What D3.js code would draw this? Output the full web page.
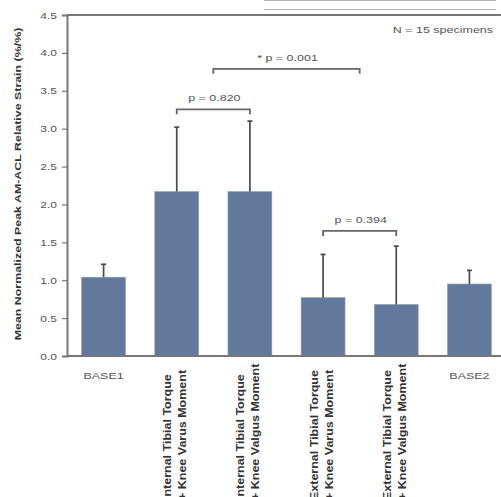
<!DOCTYPE html>
<html>
<head>
<meta charset="utf-8">
<script src="https://cdn.jsdelivr.net/npm/d3@7"></script>
<style>
  html, body { margin: 0; padding: 0; background: #fff; }
  svg { display: block; font-family: "Liberation Sans", Arial, sans-serif; }
</style>
</head>
<body>
<div id="chart"></div>
<script>
const categories = ['BASE1', 'IT_VAR', 'IT_VAL', 'ET_VAR', 'ET_VAL', 'BASE2'];
const labelLines = [
  ['BASE1'],
  ['Internal Tibial Torque', '+ Knee Varus Moment'],
  ['Internal Tibial Torque', '+ Knee Valgus Moment'],
  ['External Tibial Torque', '+ Knee Varus Moment'],
  ['External Tibial Torque', '+ Knee Valgus Moment'],
  ['BASE2']
];
const means = [1.04, 2.17, 2.17, 0.77, 0.68, 0.95];
const sds = [0.17, 0.85, 0.93, 0.57, 0.77, 0.18];
const yTicks = [0, 0.5, 1, 1.5, 2, 2.5, 3, 3.5, 4, 4.5];

// brackets: from category, to category, level, label
const bracketFrom = [1, 1.5, 3];
const bracketTo = [2, 3.5, 4];
const bracketLevel = [3.255, 3.79, 1.65];
const bracketLabels = ['p = 0.820', '* p = 0.001', 'p = 0.394'];

const W = 501, H = 497;
const MARGIN = {top: 15, left: 67, bottom: 141};
const PLOT_RIGHT = 506;
const BAR_COLOR = '#62799c';
const AXIS_COLOR = '#777';
const SQUASH = 0.78;

const svg = d3.select('#chart').append('svg')
  .attr('width', W)
  .attr('height', H);

const x = d3.scaleBand()
  .domain(categories)
  .range([MARGIN.left, PLOT_RIGHT])
  .paddingInner(0.4)
  .paddingOuter(0.2);

const y = d3.scaleLinear()
  .domain([0, 4.5])
  .range([H - MARGIN.bottom, MARGIN.top]);

// centre of a (possibly fractional) category index
const cx = i => {
  const lo = Math.floor(i), f = i - lo;
  return x(categories[lo]) + x.bandwidth() / 2 + f * x.step();
};

// flat (vertically squashed) text, like the reference
function flatText(tx, ty, str, anchor, size, fill) {
  return svg.append('text')
    .attr('transform', 'translate(' + tx + ',' + ty + ') scale(1,' + SQUASH + ')')
    .attr('text-anchor', anchor)
    .attr('fill', fill)
    .style('font-size', size + 'px')
    .text(str);
}

// stray border lines at top right
svg.append('g')
  .selectAll('line')
  .data([0.5, 9.5])
  .join('line')
  .attr('x1', 264).attr('x2', 496)
  .attr('y1', d => d).attr('y2', d => d)
  .attr('stroke', '#b5b5b5')
  .attr('stroke-width', 1);

// bars
svg.append('g')
  .selectAll('rect')
  .data(means)
  .join('rect')
  .attr('x', (d, i) => x(categories[i]))
  .attr('y', d => y(d))
  .attr('width', x.bandwidth())
  .attr('height', d => y(0) - y(d))
  .attr('fill', BAR_COLOR)
  .attr('stroke', '#8aa0bd')
  .attr('stroke-width', 0.6);

// error bars
const err = svg.append('g')
  .attr('stroke', '#4a4a4a')
  .attr('stroke-width', 1.7);

err.selectAll('line.v')
  .data(means)
  .join('line')
  .attr('class', 'v')
  .attr('x1', (d, i) => cx(i)).attr('x2', (d, i) => cx(i))
  .attr('y1', d => y(d))
  .attr('y2', (d, i) => y(d + sds[i]));

err.selectAll('line.c')
  .data(means)
  .join('line')
  .attr('class', 'c')
  .attr('x1', (d, i) => cx(i) - 2.5).attr('x2', (d, i) => cx(i) + 2.5)
  .attr('y1', (d, i) => y(d + sds[i]))
  .attr('y2', (d, i) => y(d + sds[i]));

// frame top line
svg.append('line')
  .attr('x1', MARGIN.left).attr('x2', W)
  .attr('y1', y(4.5)).attr('y2', y(4.5))
  .attr('stroke', AXIS_COLOR)
  .attr('stroke-width', 2);

// x axis line
svg.append('line')
  .attr('x1', MARGIN.left).attr('x2', W)
  .attr('y1', y(0)).attr('y2', y(0))
  .attr('stroke', AXIS_COLOR)
  .attr('stroke-width', 2);

// y axis
const yAxis = d3.axisLeft(y)
  .tickValues(yTicks)
  .tickFormat(d3.format('.1f'))
  .tickSize(5)
  .tickPadding(5);

const yg = svg.append('g')
  .attr('transform', 'translate(' + MARGIN.left + ',0)')
  .call(yAxis);

yg.select('.domain').attr('stroke', AXIS_COLOR).attr('stroke-width', 2);
yg.selectAll('.tick line').attr('stroke', AXIS_COLOR).attr('stroke-width', 1.2);
yg.selectAll('.tick text')
  .attr('fill', '#555')
  .attr('transform', 'scale(1,' + SQUASH + ')')
  .style('font-size', '12px')
  .style('font-family', '"Liberation Sans", Arial, sans-serif');

// y title
svg.append('text')
  .attr('transform', 'translate(21,' + 184 + ') rotate(-90) scale(1,0.8)')
  .attr('text-anchor', 'middle')
  .attr('fill', '#333')
  .style('font-size', '12.4px')
  .style('font-weight', 'bold')
  .text('Mean Normalized Peak AM-ACL Relative Strain (%/%)');

// x labels
labelLines.forEach((lines, i) => {
  const c = cx(i);
  if (lines.length === 1) {
    flatText(c, 379, lines[0], 'middle', 12.5, '#555');
  } else {
    lines.forEach((t, k) => {
      const bx = c - 5.5 + k * 15;
      svg.append('text')
        .attr('transform', 'translate(' + bx + ',500) rotate(-90) scale(1,0.9)')
        .attr('text-anchor', 'start')
        .attr('fill', '#333')
        .style('font-size', '12.5px')
        .style('font-weight', 'bold')
        .text(t);
    });
  }
});

// significance brackets
const br = svg.append('g');
bracketLabels.forEach((lab, i) => {
  const x1 = cx(bracketFrom[i]), x2 = cx(bracketTo[i]);
  const yy = y(bracketLevel[i]);
  br.append('path')
    .attr('d', d3.line()([[x1, yy + 5], [x1, yy], [x2, yy], [x2, yy + 5]]))
    .attr('fill', 'none')
    .attr('stroke', '#666')
    .attr('stroke-width', 1.8);
  flatText((x1 + x2) / 2 + 1, yy - 8, lab, 'middle', 12.5, '#555');
});

// sample size note
flatText(493, 33, 'N = 15 specimens', 'end', 12.5, '#555');
</script>
</body>
</html>
